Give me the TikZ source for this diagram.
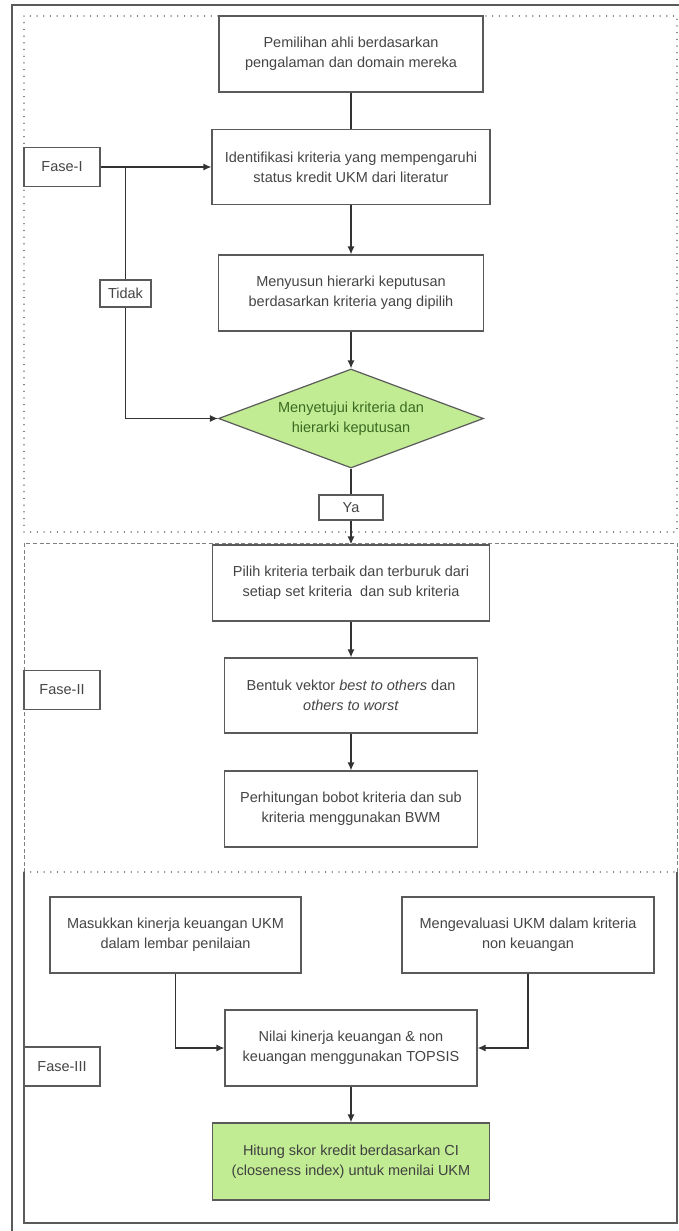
\documentclass[tikz,border=0pt]{standalone}
\usepackage{fontspec}
\setmainfont{Liberation Sans}
\usetikzlibrary{arrows.meta,positioning,shapes.geometric}
\definecolor{boxline}{HTML}{5A5A5A}
\definecolor{boxtext}{HTML}{454545}
\definecolor{okgreen}{HTML}{C2EC93}
\definecolor{okgreentext}{HTML}{3A6A22}
\begin{document}
\begin{tikzpicture}[x=1pt,y=-1pt,>=Latex,
  stepbox/.style={draw=boxline,line width=1.2pt,fill=white,align=center,text=boxtext,font=\fontsize{14.5}{20}\selectfont,inner sep=2pt,minimum height=76pt},
  fasebox/.style={draw=boxline,line width=1.2pt,fill=white,text=boxtext,font=\fontsize{14.5}{16}\selectfont,minimum width=76pt,minimum height=39pt,inner sep=2pt},
  choice/.style={draw=boxline,line width=1.2pt,fill=white,text=boxtext,font=\fontsize{14.5}{16}\selectfont,inner sep=2pt},
  flow/.style={draw=black!80,line width=1.2pt},
  arr/.style={flow,-{Latex[length=8pt,width=7pt]}}]
\useasboundingbox (0,0) rectangle (679,1231);
% outer frame and phase frames
\draw[boxline,line width=1.2pt] (679,5) -- (12,5) -- (12,1231);
\draw[black!55,line width=1.3pt,line cap=round,dash pattern=on 0.1pt off 6.6pt] (24,16) rectangle (677,532);
\draw[black!50,line width=0.9pt,dash pattern=on 4pt off 2.5pt] (24,872) -- (24,543) -- (677,543) -- (677,872);
\draw[black!55,line width=1.3pt,line cap=round,dash pattern=on 0.1pt off 6.6pt] (24,872) -- (677,872);
\draw[boxline,line width=1.2pt] (24,872) -- (24,1223) -- (677,1223) -- (677,872);
% phase I
\node[stepbox,minimum width=264pt] (pilihahli) at (351,54) {Pemilihan ahli berdasarkan\\pengalaman dan domain mereka};
\node[stepbox,minimum width=278pt,minimum height=75pt] (identif) at (351,167) {Identifikasi kriteria yang mempengaruhi\\status kredit UKM dari literatur};
\node[stepbox,minimum width=265pt] (hierarki) at (351,293) {Menyusun hierarki keputusan\\berdasarkan kriteria yang dipilih};
\node[diamond,draw=boxline,line width=1.2pt,fill=okgreen,text=okgreentext,align=center,font=\fontsize{14.5}{20}\selectfont,aspect=2.68,inner sep=0pt,minimum width=265pt,minimum height=99pt] (setuju) at (351,418.5) {Menyetujui kriteria dan\\hierarki keputusan};
\node[choice,minimum width=64pt,minimum height=25pt] (ya) at (351,507.5) {Ya};
\node[fasebox] (fase1) at (62,167) {Fase-I};
\node[choice,minimum width=51pt,minimum height=27pt] (tidak) at (125.5,293.5) {Tidak};
% phase II
\node[stepbox,minimum width=277pt] (terbaik) at (351,583) {Pilih kriteria terbaik dan terburuk dari\\setiap set kriteria\ \ dan sub kriteria};
\node[stepbox,minimum width=253pt,minimum height=75pt] (vektor) at (351,695.5) {Bentuk vektor \textit{best to others} dan\\\textit{others to worst}};
\node[stepbox,minimum width=253pt] (bobot) at (351,809) {Perhitungan bobot kriteria dan sub\\kriteria menggunakan BWM};
\node[fasebox] (fase2) at (62,690) {Fase-II};
% phase III
\node[stepbox,minimum width=251pt] (keuangan) at (175.5,935) {Masukkan kinerja keuangan UKM\\dalam lembar penilaian};
\node[stepbox,minimum width=252pt] (nonkeu) at (528,935) {Mengevaluasi UKM dalam kriteria\\non keuangan};
\node[stepbox,minimum width=252pt] (topsis) at (351,1048) {Nilai kinerja keuangan \& non\\keuangan menggunakan TOPSIS};
\node[stepbox,minimum width=277pt,minimum height=77pt,fill=okgreen,text=black!75] (skor) at (351,1161.5) {Hitung skor kredit berdasarkan CI\\(closeness index) untuk menilai UKM};
\node[fasebox] (fase3) at (62,1066.5) {Fase-III};
% connectors
\coordinate (tidaktop) at (tidak.north |- fase1.east);
\draw[flow] (pilihahli.south) -- (identif.north);
\draw[arr] (identif.south) -- (hierarki.north);
\draw[arr] (hierarki.south) -- (setuju.north);
\draw[flow] (setuju.south) -- (ya.north);
\draw[arr] (ya.south) -- (terbaik.north);
\draw[arr] (fase1.east) -- (fase1.east -| identif.west);
\draw[flow] (tidaktop) -- (tidak.north);
\draw[arr] (tidak.south) |- (setuju.west);
\draw[arr] (terbaik.south) -- (vektor.north);
\draw[arr] (vektor.south) -- (bobot.north);
\draw[arr] (keuangan.south) |- (topsis.west);
\draw[arr] (nonkeu.south) |- (topsis.east);
\draw[arr] (topsis.south) -- (skor.north);
\end{tikzpicture}
\end{document}
